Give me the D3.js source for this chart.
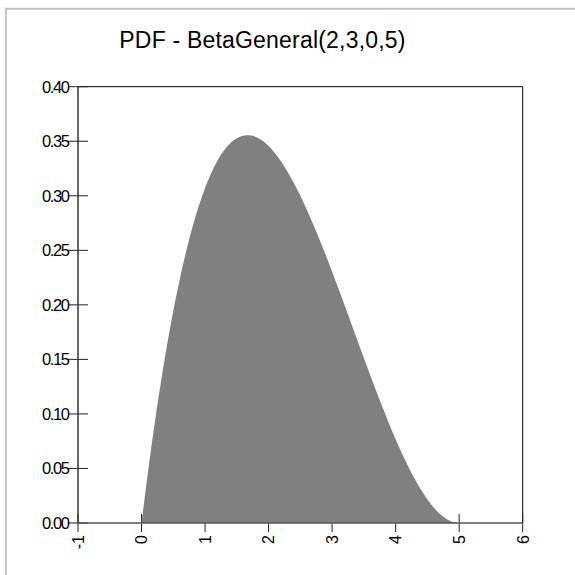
<!DOCTYPE html>
<html><head><meta charset="utf-8">
<script src="https://cdn.jsdelivr.net/npm/d3@7"></script>
<style>html,body{margin:0;padding:0;background:#fff;}svg{display:block;font-family:"Liberation Sans",Arial,sans-serif;}</style>
</head><body>
<svg id="c" width="575" height="575"></svg>
<script>
const title = "PDF - BetaGeneral(2,3,0,5)";
const xValues = [0,0.1,0.2,0.3,0.4,0.5,0.6,0.7,0.8,0.9,1.0,1.1,1.2,1.3,1.4,1.5,1.6,1.7,1.8,1.9,2.0,2.1,2.2,2.3,2.4,2.5,2.6,2.7,2.8,2.9,3.0,3.1,3.2,3.3,3.4,3.5,3.6,3.7,3.8,3.9,4.0,4.1,4.2,4.3,4.4,4.5,4.6,4.7,4.8,4.9,5.0];
const densities = [0,0.0461,0.0885,0.1272,0.1625,0.1944,0.2230,0.2485,0.2710,0.2905,0.3072,0.3212,0.3327,0.3417,0.3484,0.3528,0.3551,0.3555,0.3539,0.3506,0.3456,0.3391,0.3312,0.3219,0.3115,0.3000,0.2875,0.2742,0.2602,0.2456,0.2304,0.2149,0.1991,0.1831,0.1671,0.1512,0.1355,0.1201,0.1051,0.0906,0.0768,0.0638,0.0516,0.0405,0.0304,0.0216,0.0141,0.0081,0.0037,0.0009,0];
const xTicks = [-1,0,1,2,3,4,5,6];
const yTicks = [0,0.05,0.10,0.15,0.20,0.25,0.30,0.35,0.40];

const svg = d3.select("#c");
const L = 78, T = 86.7, R = 522.7, B = 523;
const x = d3.scaleLinear().domain([-1,6]).range([L,R]);
const y = d3.scaleLinear().domain([0,0.40]).range([B,T]);

// outer frame (top & left only, light gray)
svg.append("line").attr("x1",5).attr("x2",575).attr("y1",8.8).attr("y2",8.8).attr("stroke","#c0c0c0").attr("stroke-width",2);
svg.append("line").attr("x1",6).attr("x2",6).attr("y1",8).attr("y2",575).attr("stroke","#c8c8c8").attr("stroke-width",2);

svg.append("text").attr("x",262.5).attr("y",48).attr("text-anchor","middle")
  .attr("font-size",23).attr("letter-spacing","0.2px").attr("fill","#000").text(title);

// plot frame top/right
svg.append("line").attr("x1",L).attr("x2",R).attr("y1",T).attr("y2",T).attr("stroke","#000");
svg.append("line").attr("x1",R).attr("x2",R).attr("y1",T).attr("y2",B).attr("stroke","#000");

// ticks
const gy = svg.append("g");
yTicks.forEach(v=>{
  gy.append("line").attr("x1",L-10).attr("x2",L+10).attr("y1",y(v)).attr("y2",y(v)).attr("stroke","#222");
  gy.append("text").attr("x",L-9.5).attr("y",y(v)+5.8).attr("text-anchor","end")
    .attr("font-size",16.5).attr("letter-spacing","-1.4px").attr("fill","#000").text(d3.format(".2f")(v));
});
const gx = svg.append("g");
xTicks.forEach(v=>{
  gx.append("line").attr("x1",x(v)).attr("x2",x(v)).attr("y1",B-9).attr("y2",B+9).attr("stroke","#222");
  gx.append("text").attr("transform",`translate(${x(v)+5.8},${B+12}) rotate(-90)`).attr("text-anchor","end")
    .attr("font-size",16).attr("fill","#000").text(v);
});

// area
const pts = xValues.map((xv,i)=>[xv,densities[i]]);
const area = d3.area().x(d=>x(d[0])).y0(y(0)).y1(d=>y(d[1])).curve(d3.curveMonotoneX);
svg.append("path").datum(pts).attr("d",area).attr("fill","#808080");

// axes lines
svg.append("line").attr("x1",L).attr("x2",R).attr("y1",B).attr("y2",B).attr("stroke","#555").attr("stroke-width",1.5);
svg.append("line").attr("x1",L).attr("x2",L).attr("y1",T).attr("y2",B).attr("stroke","#333").attr("stroke-width",1.5);
</script>
</body></html>
